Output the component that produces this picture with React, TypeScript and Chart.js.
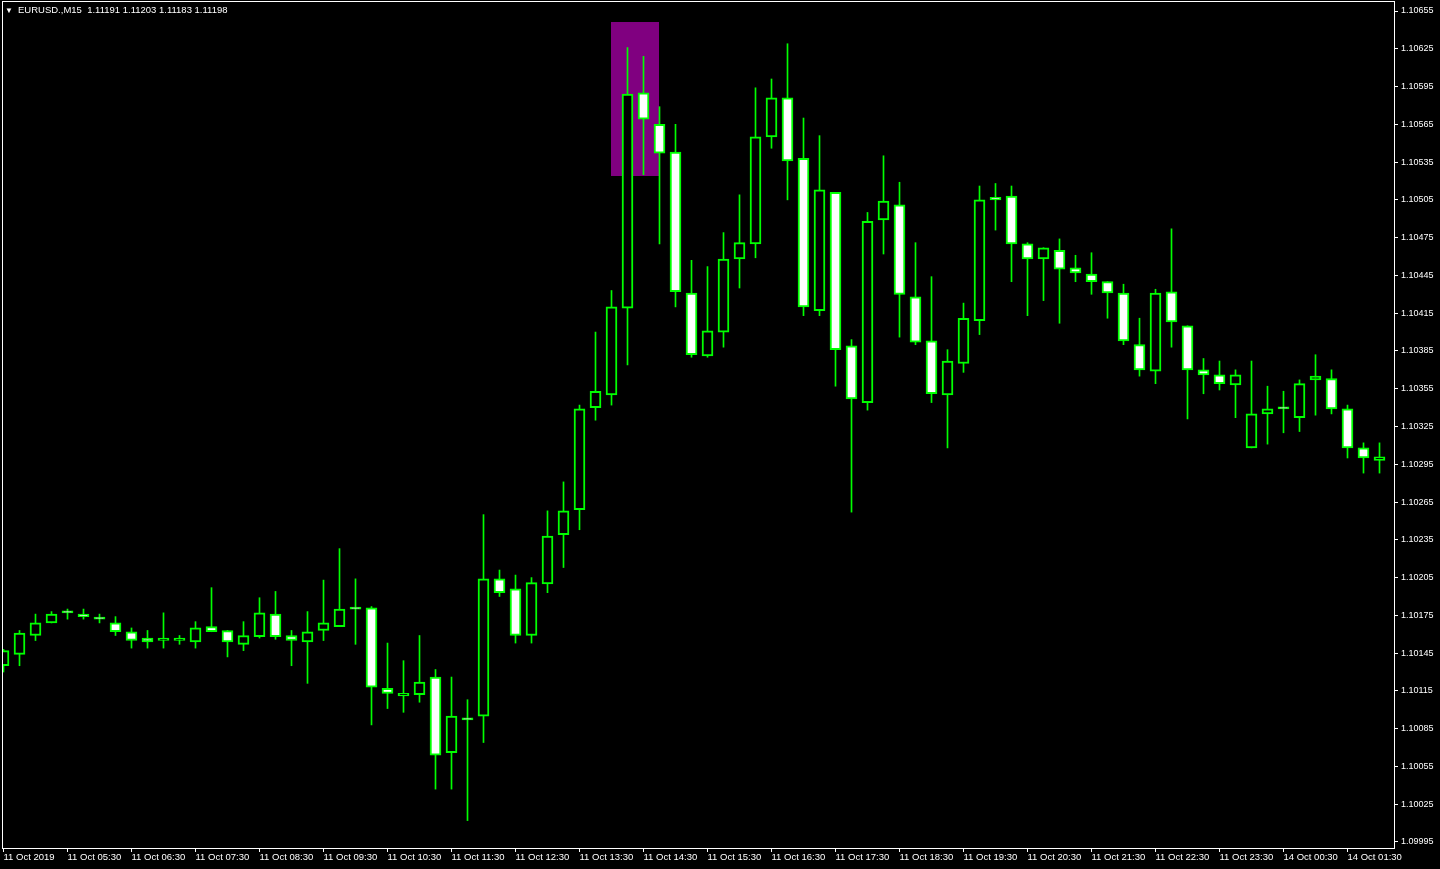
import React, { useEffect, useRef } from "react";
import { Chart, registerables } from "chart.js";

Chart.register(...registerables);

const headerText = "EURUSD.,M15  1.11191 1.11203 1.11183 1.11198";

const openPrices = [
  1.10135, 1.10144, 1.10159, 1.10169, 1.10177, 1.10176, 1.10173, 1.10169, 1.10162, 1.10157,
  1.10155, 1.10155, 1.10154, 1.10166, 1.10163, 1.10152, 1.10158, 1.10176, 1.10159, 1.10154,
  1.10163, 1.10166, 1.1018, 1.10181, 1.10117, 1.10111, 1.10112, 1.10126, 1.10066, 1.10092,
  1.10095, 1.10204, 1.10196, 1.10159, 1.102, 1.10239, 1.10259, 1.1034, 1.1035, 1.10419,
  1.1059, 1.10565, 1.10543, 1.10431, 1.10381, 1.104, 1.10458, 1.1047, 1.10555, 1.10586,
  1.10538, 1.10417, 1.10511, 1.10389, 1.10344, 1.10489, 1.10501, 1.10428, 1.10393, 1.1035,
  1.10375, 1.10409, 1.10507, 1.10508, 1.1047, 1.10458, 1.10465, 1.10451, 1.10446, 1.1044,
  1.10431, 1.1039, 1.10369, 1.10432, 1.10405, 1.1037, 1.10366, 1.10358, 1.10308, 1.10335,
  1.10339, 1.10332, 1.10362, 1.10363, 1.10339, 1.10308, 1.10298,
];
const highPrices = [
  1.10148, 1.10163, 1.10176, 1.10178, 1.1018, 1.1018, 1.10176, 1.10174, 1.10165, 1.10163,
  1.10177, 1.10159, 1.1017, 1.10197, 1.10163, 1.1017, 1.10189, 1.10194, 1.10163, 1.10178,
  1.10203, 1.10228, 1.10204, 1.10182, 1.10153, 1.10139, 1.10159, 1.10132, 1.10126, 1.10108,
  1.10255, 1.10211, 1.10207, 1.10205, 1.10258, 1.10281, 1.10342, 1.104, 1.10433, 1.10626,
  1.10619, 1.10579, 1.10565, 1.10457, 1.10452, 1.10479, 1.10509, 1.10594, 1.10601, 1.10629,
  1.1057, 1.10556, 1.10511, 1.10394, 1.10495, 1.1054, 1.10519, 1.10471, 1.10444, 1.10386,
  1.10423, 1.10516, 1.10518, 1.10516, 1.10471, 1.10467, 1.10474, 1.10461, 1.10463, 1.1044,
  1.10438, 1.10411, 1.10434, 1.10482, 1.10405, 1.10379, 1.10377, 1.1037, 1.10377, 1.10357,
  1.10353, 1.10362, 1.10382, 1.1037, 1.10342, 1.10312, 1.10312,
];
const lowPrices = [
  1.1013, 1.10135, 1.10155, 1.10169, 1.10172, 1.10172, 1.10169, 1.10159, 1.10149, 1.10149,
  1.10149, 1.10152, 1.10149, 1.10162, 1.10142, 1.10147, 1.10157, 1.10156, 1.10135, 1.10121,
  1.10155, 1.10166, 1.10152, 1.10088, 1.10101, 1.10098, 1.10106, 1.10037, 1.10037, 1.10012,
  1.10074, 1.1019, 1.10153, 1.10153, 1.10193, 1.10213, 1.10243, 1.1033, 1.10342, 1.10374,
  1.10525, 1.1047, 1.1042, 1.1038, 1.1038, 1.10388, 1.10435, 1.10459, 1.10546, 1.10505,
  1.10413, 1.10413, 1.10357, 1.10257, 1.10338, 1.10462, 1.10396, 1.1039, 1.10344, 1.10308,
  1.10368, 1.10398, 1.10481, 1.1044, 1.10413, 1.10425, 1.10407, 1.1044, 1.1043, 1.10411,
  1.1039, 1.10365, 1.10359, 1.10388, 1.10331, 1.10351, 1.10354, 1.10332, 1.10308, 1.10311,
  1.1032, 1.10321, 1.10334, 1.10335, 1.103, 1.10288, 1.10288,
];
const closePrices = [
  1.10147, 1.10161, 1.10169, 1.10176, 1.10177, 1.10174, 1.10172, 1.10162, 1.10155, 1.10154,
  1.10157, 1.10157, 1.10165, 1.10162, 1.10154, 1.10159, 1.10177, 1.10158, 1.10155, 1.10162,
  1.10169, 1.1018, 1.1018, 1.10118, 1.10113, 1.10113, 1.10122, 1.10064, 1.10095, 1.10092,
  1.10204, 1.10193, 1.10159, 1.10201, 1.10238, 1.10258, 1.10339, 1.10353, 1.1042, 1.10589,
  1.10569, 1.10542, 1.10432, 1.10382, 1.10401, 1.10458, 1.10471, 1.10555, 1.10586, 1.10536,
  1.1042, 1.10513, 1.10386, 1.10347, 1.10488, 1.10504, 1.1043, 1.10392, 1.10351, 1.10377,
  1.10411, 1.10505, 1.10505, 1.1047, 1.10458, 1.10467, 1.1045, 1.10447, 1.1044, 1.10431,
  1.10393, 1.1037, 1.10431, 1.10408, 1.1037, 1.10366, 1.10359, 1.10366, 1.10335, 1.10339,
  1.10339, 1.10359, 1.10365, 1.10339, 1.10308, 1.103, 1.10301,
];

// one label every 4 bars (bar 0 = 11 Oct 04:30, M15)
const timeLabels = [
  "11 Oct 2019", "11 Oct 05:30", "11 Oct 06:30", "11 Oct 07:30", "11 Oct 08:30", "11 Oct 09:30",
  "11 Oct 10:30", "11 Oct 11:30", "11 Oct 12:30", "11 Oct 13:30", "11 Oct 14:30", "11 Oct 15:30",
  "11 Oct 16:30", "11 Oct 17:30", "11 Oct 18:30", "11 Oct 19:30", "11 Oct 20:30", "11 Oct 21:30",
  "11 Oct 22:30", "11 Oct 23:30", "14 Oct 00:30", "14 Oct 01:30",
];
const labelStep = 4;

const priceTicks = [
  1.10655, 1.10625, 1.10595, 1.10565, 1.10535, 1.10505, 1.10475, 1.10445, 1.10415, 1.10385,
  1.10355, 1.10325, 1.10295, 1.10265, 1.10235, 1.10205, 1.10175, 1.10145, 1.10115, 1.10085,
  1.10055, 1.10025, 1.09995,
];

// highlighted zone (bar index range and price range)
const zoneFromBar = 38;
const zoneToBar = 41;
const zoneHigh = 1.10646;
const zoneLow = 1.10524;

const GREEN = "#00ff00";
const FONT = '"Liberation Sans", Arial, "DejaVu Sans", sans-serif';

const mtPlugin = {
  id: "mtDecor",
  beforeDatasetsDraw(chart: any) {
    const { ctx, scales } = chart;
    const x = scales.x;
    const y = scales.y;
    const x0 = Math.floor(x.getPixelForValue(zoneFromBar));
    const x1 = Math.floor(x.getPixelForValue(zoneToBar));
    const y0 = Math.round(y.getPixelForValue(zoneHigh));
    const y1 = Math.round(y.getPixelForValue(zoneLow));
    ctx.save();
    ctx.fillStyle = "#800080";
    ctx.fillRect(x0, y0, x1 - x0, y1 - y0);
    ctx.restore();
  },
  afterDraw(chart: any) {
    const { ctx, chartArea } = chart;
    ctx.save();
    ctx.strokeStyle = "#ffffff";
    ctx.lineWidth = 1;
    ctx.strokeRect(
      chartArea.left + 0.5,
      chartArea.top - 0.5,
      chartArea.right - chartArea.left,
      chartArea.bottom - chartArea.top + 1
    );
    ctx.fillStyle = "#ffffff";
    ctx.textBaseline = "middle";
    ctx.font = `8px ${FONT}`;
    ctx.fillText("\u25BC", 5, 10.5);
    ctx.font = `9.5px ${FONT}`;
    ctx.fillText(headerText, 18, 10.5);
    ctx.restore();
  },
};

export default function App() {
  const canvasRef = useRef<HTMLCanvasElement | null>(null);

  useEffect(() => {
    document.body.style.margin = "0";
    document.body.style.background = "#000";
    const canvas = canvasRef.current;
    if (!canvas) return;

    const bodyData = openPrices.map((o, i) => ({ x: i, y: [o, closePrices[i]] }));
    const wickData = lowPrices.map((l, i) => ({ x: i, y: [l, highPrices[i]] }));
    const bodyColors = openPrices.map((o, i) => (closePrices[i] > o ? "#000000" : "#ffffff"));

    const chart = new Chart(canvas, {
      type: "bar",
      data: {
        datasets: [
          {
            label: "body",
            data: bodyData as any,
            backgroundColor: bodyColors,
            borderColor: GREEN,
            borderWidth: 2,
            borderSkipped: false,
            barThickness: 11,
            grouped: false,
            minBarLength: 2,
            order: 0,
          } as any,
          {
            label: "wick",
            data: wickData as any,
            backgroundColor: GREEN,
            borderWidth: 0,
            barThickness: 1,
            grouped: false,
            order: 1,
          } as any,
        ],
      },
      options: {
        responsive: false,
        animation: false,
        devicePixelRatio: 1,
        events: [],
        layout: { padding: { left: 2, top: 2, right: 0, bottom: 0 } },
        plugins: { legend: { display: false }, tooltip: { enabled: false } },
        scales: {
          x: {
            type: "linear",
            position: "bottom",
            min: -0.09375,
            max: 86.90625,
            offset: false,
            bounds: "data",
            grid: { drawOnChartArea: false, color: "#ffffff", tickLength: 4, offset: false },
            border: { display: false },
            afterBuildTicks: (scale: any) => {
              scale.ticks = timeLabels.map((_, k) => ({ value: k * labelStep }));
            },
            afterFit: (scale: any) => {
              scale.height = 21;
              scale.paddingLeft = 0;
              scale.paddingRight = 0;
            },
            ticks: {
              autoSkip: false,
              maxRotation: 0,
              minRotation: 0,
              align: "start",
              padding: 0,
              color: "#ffffff",
              font: { family: FONT, size: 9.5 },
              callback: (v: any) => timeLabels[Math.round(Number(v) / labelStep)] ?? "",
            },
          } as any,
          y: {
            type: "linear",
            position: "right",
            min: 1.0999023,
            max: 1.1066215,
            beginAtZero: false,
            bounds: "data",
            grid: { drawOnChartArea: false, color: "#ffffff", tickLength: 4 },
            border: { display: false },
            afterBuildTicks: (scale: any) => {
              scale.ticks = priceTicks.map((p) => ({ value: p }));
            },
            afterFit: (scale: any) => {
              scale.width = 46;
              scale.paddingTop = 0;
              scale.paddingBottom = 0;
            },
            ticks: {
              padding: 3,
              color: "#ffffff",
              font: { family: FONT, size: 9 },
              callback: (v: any) => Number(v).toFixed(5),
            },
          } as any,
        },
      },
      plugins: [mtPlugin],
    });

    return () => chart.destroy();
  }, []);

  return (
    <div
      style={{
        position: "fixed",
        left: 0,
        top: 0,
        width: 1440,
        height: 869,
        background: "#000000",
      }}
    >
      <canvas ref={canvasRef} width={1440} height={869} style={{ display: "block" }} />
    </div>
  );
}
